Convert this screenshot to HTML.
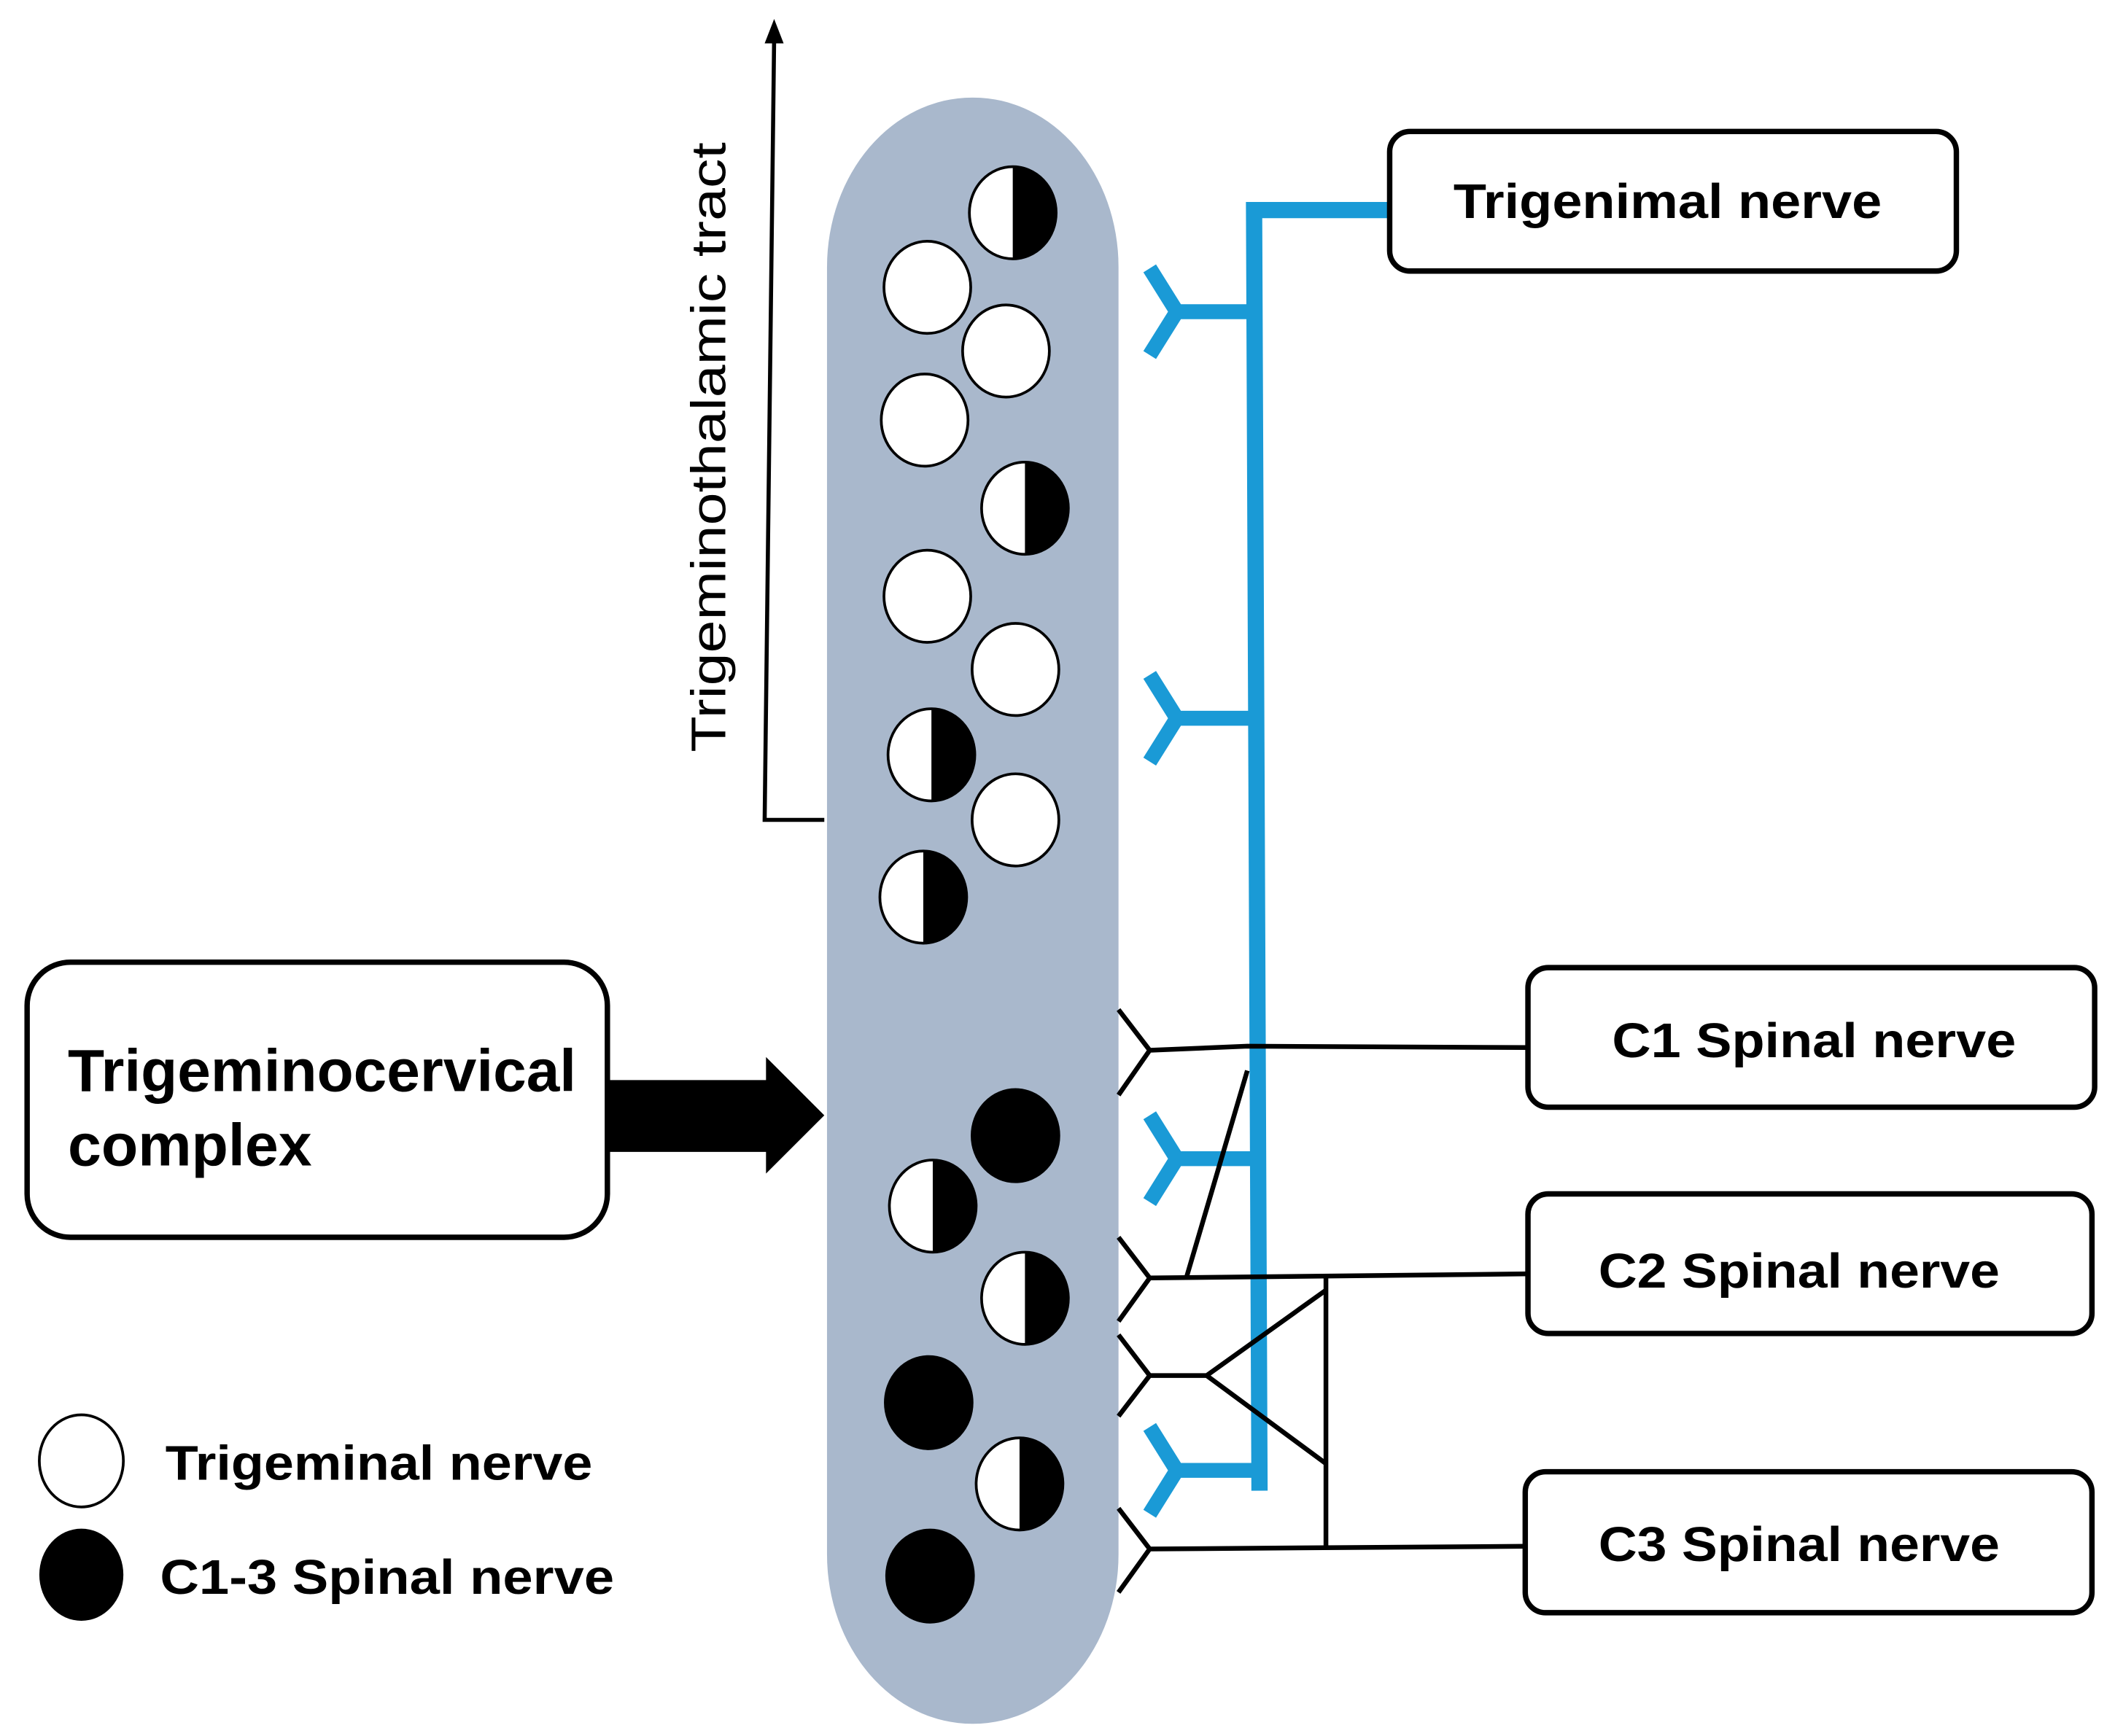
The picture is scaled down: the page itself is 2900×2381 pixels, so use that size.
<!DOCTYPE html>
<html><head><meta charset="utf-8"><style>
html,body{margin:0;padding:0;background:#fff;}
svg{display:block;}
text{font-family:"Liberation Sans",sans-serif;font-weight:bold;fill:#000;}
</style></head><body>
<svg width="2900" height="2381" viewBox="0 0 1560 1281" preserveAspectRatio="none" xmlns="http://www.w3.org/2000/svg">
<rect x="0" y="0" width="1560" height="1281" fill="#fff"/>
<!-- pill -->
<rect x="610" y="72" width="215" height="1200" rx="107" ry="125" fill="#a9b8cc"/>
<defs>
<g id="w"><ellipse cx="0" cy="0" rx="32" ry="34" fill="#fff" stroke="#000" stroke-width="2"/></g>
<g id="b"><ellipse cx="0" cy="0" rx="32" ry="34" fill="#000" stroke="#000" stroke-width="2"/></g>
<g id="h"><ellipse cx="0" cy="0" rx="32" ry="34" fill="#fff" stroke="#000" stroke-width="2"/><path d="M0,-34 A32,34 0 0 1 0,34 Z" fill="#000"/></g>
</defs>
<use href="#h" x="747" y="157"/>
<use href="#w" x="684" y="212"/>
<use href="#w" x="742" y="259"/>
<use href="#w" x="682" y="310"/>
<use href="#h" x="756" y="375"/>
<use href="#w" x="684" y="440"/>
<use href="#w" x="749" y="494"/>
<use href="#h" x="687" y="557"/>
<use href="#w" x="749" y="605"/>
<use href="#h" x="681" y="662"/>
<use href="#b" x="749" y="838"/>
<use href="#h" x="688" y="890"/>
<use href="#h" x="756" y="958"/>
<use href="#b" x="685" y="1035"/>
<use href="#h" x="752" y="1095"/>
<use href="#b" x="686" y="1163"/>
<!-- up arrow -->
<polyline points="608,605 564,605 571,28" fill="none" stroke="#000" stroke-width="3"/>
<polygon points="571,14 564,32 578,32" fill="#000"/>
<text transform="translate(535,555) rotate(-90)" font-size="36" textLength="450" lengthAdjust="spacingAndGlyphs" style="font-weight:normal">Trigeminothalamic tract</text>
<!-- blue -->
<polyline points="1025,155 925,155 929,1100" fill="none" stroke="#1a9ad6" stroke-width="12"/>
<g fill="none" stroke="#1a9ad6" stroke-width="11">
<path d="M929,230 H868 M848,198 L868,230 L848,262"/>
<path d="M929,530 H868 M848,498 L868,530 L848,562"/>
<path d="M929,855 H868 M848,823 L868,855 L848,887"/>
<path d="M929,1085 H868 M848,1053 L868,1085 L848,1117"/>
</g>
<!-- black connectors -->
<g fill="none" stroke="#000" stroke-width="3.5">
<path d="M825,745 L848,775 L825,808 M848,775 L920,772 L1127,773"/>
<path d="M825,913 L848,943 L825,975 M848,943 L1127,940"/>
<path d="M875,943 L920,790"/>
<path d="M825,985 L848,1015 L825,1045 M848,1015 L890,1015 L978,952 M890,1015 L978,1080"/>
<path d="M978,940 L978,1142"/>
<path d="M825,1113 L848,1143 L825,1175 M848,1143 L1127,1141"/>
</g>
<!-- boxes -->
<g fill="#fff" stroke="#000" stroke-width="4">
<rect x="1025" y="97" width="418" height="103" rx="15"/>
<rect x="1127" y="714" width="418" height="103" rx="15"/>
<rect x="1127" y="881" width="416" height="103" rx="15"/>
<rect x="1125" y="1086" width="418" height="104" rx="15"/>
<rect x="20" y="710" width="428" height="203" rx="32"/>
</g>
<text x="1072" y="161" font-size="36" textLength="316" lengthAdjust="spacingAndGlyphs">Trigenimal nerve</text>
<text x="1189" y="780" font-size="36" textLength="298" lengthAdjust="spacingAndGlyphs">C1 Spinal nerve</text>
<text x="1179" y="950" font-size="36" textLength="296" lengthAdjust="spacingAndGlyphs">C2 Spinal nerve</text>
<text x="1179" y="1152" font-size="36" textLength="296" lengthAdjust="spacingAndGlyphs">C3 Spinal nerve</text>
<text x="50" y="805" font-size="44" textLength="375" lengthAdjust="spacingAndGlyphs">Trigeminocervical</text>
<text x="50" y="860" font-size="44" textLength="180" lengthAdjust="spacingAndGlyphs">complex</text>
<!-- big arrow -->
<polygon points="448,797 565,797 565,780 608,823 565,866 565,850 448,850" fill="#000"/>
<!-- legend -->
<ellipse cx="60" cy="1078" rx="31" ry="34" fill="#fff" stroke="#000" stroke-width="2"/>
<ellipse cx="60" cy="1162" rx="31" ry="34" fill="#000"/>
<text x="122" y="1092" font-size="36" textLength="315" lengthAdjust="spacingAndGlyphs">Trigeminal nerve</text>
<text x="118" y="1176" font-size="36" textLength="335" lengthAdjust="spacingAndGlyphs">C1-3 Spinal nerve</text>
</svg>
</body></html>
